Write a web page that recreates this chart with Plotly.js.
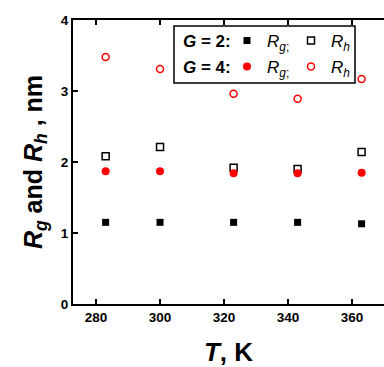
<!DOCTYPE html>
<html><head><meta charset="utf-8">
<script src="https://cdn.plot.ly/plotly-3.0.1.min.js"></script>
<style>html,body{margin:0;padding:0;background:#fff;}</style>
</head><body>
<div id="chart" style="width:384px;height:367px;"></div>
<script>
const T = [283, 300, 323, 343, 363];
const Rg_G2 = [1.15, 1.15, 1.15, 1.15, 1.13];
const Rh_G2 = [2.08, 2.21, 1.92, 1.90, 2.14];
const Rg_G4 = [1.87, 1.87, 1.84, 1.84, 1.85];
const Rh_G4 = [3.48, 3.31, 2.96, 2.89, 3.17];
const xTicks = [280, 300, 320, 340, 360];
const yTicks = [0, 1, 2, 3, 4];

const F = 'Liberation Sans, Arial, sans-serif';
const L = 73, R = 384, Tp = 20, B = 304;
const px = v => (v - L) / (R - L);
const py = v => (B - v) / (B - Tp);

const traces = [
  {x: T, y: Rg_G2, mode: 'markers', name: '<i>R</i><sub><i>g</i>;</sub>', legend: 'legend',
   marker: {symbol: 'square', size: 7, color: '#000'}},
  {x: T, y: Rh_G2, mode: 'markers', name: '<i>R</i><sub><i>h</i></sub>', legend: 'legend',
   marker: {symbol: 'square-open', size: 7, color: '#000', line: {width: 1.5}}},
  {x: T, y: Rg_G4, mode: 'markers', name: '<i>R</i><sub><i>g</i>;</sub>', legend: 'legend2',
   marker: {symbol: 'circle', size: 8, color: '#ff0000'}},
  {x: T, y: Rh_G4, mode: 'markers', name: '<i>R</i><sub><i>h</i></sub>', legend: 'legend2',
   marker: {symbol: 'circle-open', size: 7, color: '#ff0000', line: {width: 1.5}}}
];

const legCommon = {orientation: 'h', xanchor: 'left', yanchor: 'middle', bgcolor: 'rgba(0,0,0,0)',
  font: {family: F, size: 17, color: '#000'}, entrywidth: 19, entrywidthmode: 'pixels',
  traceorder: 'normal', itemclick: false, borderwidth: 0};

const layout = {
  width: 384, height: 367,
  margin: {l: L, r: 384 - R, t: Tp, b: 367 - B},
  paper_bgcolor: '#fff', plot_bgcolor: '#fff',
  showlegend: true,
  legend: Object.assign({}, legCommon, {x: px(227), y: py(41)}),
  legend2: Object.assign({}, legCommon, {x: px(227), y: py(67)}),
  xaxis: {range: [272.8, 370], tickvals: xTicks, ticktext: xTicks.map(String),
    ticks: 'inside', ticklen: 5, tickwidth: 2, tickcolor: '#000',
    showline: true, linewidth: 2, linecolor: '#000', mirror: 'ticks',
    showgrid: false, zeroline: false,
    tickfont: {family: F, size: 13.5, color: '#000', weight: 'bold'},
    title: {text: '<b><i>T</i>, K</b>', font: {family: F, size: 26, color: '#000'}, standoff: 20}},
  yaxis: {range: [0, 4], tickvals: yTicks, ticktext: yTicks.map(String),
    ticks: 'inside', ticklen: 5, tickwidth: 2, tickcolor: '#000',
    showline: true, linewidth: 2, linecolor: '#000', mirror: false,
    showgrid: false, zeroline: false,
    tickfont: {family: F, size: 13.5, color: '#000', weight: 'bold'},
    title: {text: '<b><i>R</i><sub><i>g</i></sub> and <i>R</i><sub><i>h</i></sub> , nm</b>',
      font: {family: F, size: 25, color: '#000'}, standoff: 11}},
  shapes: [
    {type: 'rect', xref: 'paper', yref: 'paper', x0: px(174), x1: px(355), y0: py(83), y1: py(26),
     line: {color: '#000', width: 1.5}, fillcolor: 'rgba(0,0,0,0)'}
  ],
  annotations: [
    {xref: 'paper', yref: 'paper', x: px(181), y: py(41), xanchor: 'left', yanchor: 'middle',
     text: '<b><i>G</i> = 2:</b>', showarrow: false, font: {family: F, size: 17, color: '#000'}},
    {xref: 'paper', yref: 'paper', x: px(181), y: py(67), xanchor: 'left', yanchor: 'middle',
     text: '<b><i>G</i> = 4:</b>', showarrow: false, font: {family: F, size: 17, color: '#000'}}
  ]
};

Plotly.newPlot('chart', traces, layout, {displayModeBar: false, staticPlot: true});
</script>
</body></html>
